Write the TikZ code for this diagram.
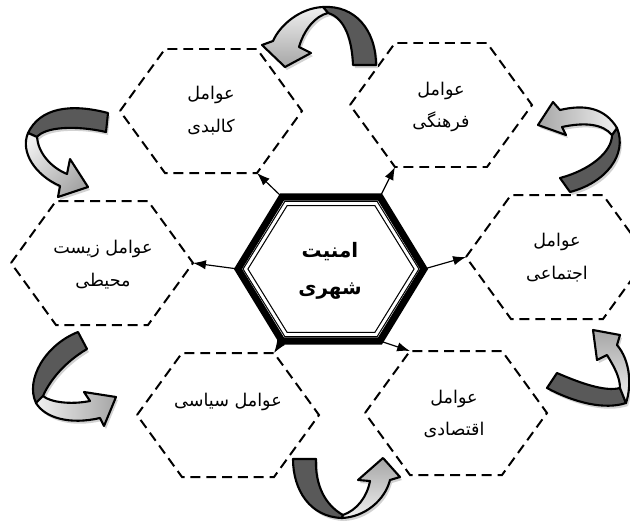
\documentclass[tikz,border=0pt]{standalone}
\usepackage{fontspec}
\newfontfamily\arabicfont[Script=Arabic]{DejaVu Sans}
\TeXXeTstate=1
\usetikzlibrary{arrows.meta}

\tikzset{
  hexline/.style={line width=1.7pt, dash pattern=on 8.5pt off 5pt},
  coreline/.style={line width=6pt, line join=miter},
  coredouble/.style={double, double distance=2.4pt, line width=1pt, line join=miter},
  factor/.style={font=\arabicfont\fontsize{15}{28}\selectfont, align=center, inner sep=0pt},
  core/.style={font=\arabicfont\bfseries\fontsize{17}{32}\selectfont, align=center, inner sep=0pt},
  link/.style={-{Latex[length=11pt,width=8pt]}, line width=1pt},
  darkband/.style={draw, line width=1.8pt, line join=round, fill=black!65},
  lightband/.style={draw, line width=1.8pt, line join=round, top color=gray!12, bottom color=gray!70, shading angle=#1},
  bandshadow/.style={gray!35, shift={(2,3)}}
}

% hexagon round a centre, corners named <name>-w, -nw, -ne, -e, -se, -sw
\newcommand{\hexagon}[6][hexline]{%
  \draw[#1] (#3) +(-#4,0) coordinate (#2-w) -- +(-#5,-#6) coordinate (#2-nw)
    -- +(#5,-#6) coordinate (#2-ne) -- +(#4,0) coordinate (#2-e)
    -- +(#5,#6) coordinate (#2-se) -- +(-#5,#6) coordinate (#2-sw) -- cycle;}

% bent arrow: dark back part and shaded front part with its head
\newcommand{\bentarrow}[3]{%
  \fill[bandshadow] #2; \fill[bandshadow] #3;
  \draw[darkband] #2;
  \draw[lightband=#1] #3;}

\begin{document}
\begin{tikzpicture}[x=0.03cm, y=-0.03cm]
\path[use as bounding box] (0,0) rectangle (630,524);
\clip (0,0) rectangle (630,524);

% Factors
\hexagon{kal}{211,111}{91}{46}{62}
\hexagon{far}{441,105}{91}{46}{62}
\hexagon{ejt}{557,257}{91}{46}{62}
\hexagon{eqt}{456,413}{91}{46}{62}
\hexagon{sia}{228,415}{91}{46}{62}
\hexagon{zis}{102,263}{91}{46}{62}

\node[factor] (kal) at (211,111) {\beginR عوامل\endR\\\beginR کالبدی\endR};
\node[factor] (far) at (441,107) {\beginR عوامل\endR\\\beginR فرهنگی\endR};
\node[factor] (ejt) at (557,258) {\beginR عوامل\endR\\\beginR اجتماعی\endR};
\node[factor] (eqt) at (454,414) {\beginR عوامل\endR\\\beginR اقتصادی\endR};
\node[factor] (sia) at (228,402) {\beginR عوامل سیاسی\endR};
\node[factor] (zis) at (103,265) {\beginR عوامل زیست\endR\\\beginR محیطی\endR};

% Urban security
\hexagon[coreline]{sec}{331,269}{93}{49}{72}
\hexagon[coredouble]{secin}{331,269}{85.5}{45}{65.5}
\node[core] (secx) at (330,271) {\beginR امنیت\endR\\\beginR شهری\endR};

% Links
\draw[link] (sec-w) -- (zis-e);
\draw[link] (sec-e) -- (ejt-w);
\draw[link] (sec-nw) -- (kal-se);
\draw[link] (sec-ne) -- (far-sw);
\draw[link] (sec-sw) -- (sia-ne);
\draw[link] (sec-se) -- (eqt-nw);

% Bent arrows, top
\bentarrow{0}
  {(323,7) .. controls (355,5) and (376,30) .. (376,65) -- (353,65) .. controls (352,40) and (345,18) .. (328,13) -- cycle}
  {(323,7) .. controls (300,8) and (280,25) .. (273,41) -- (262,45) -- (285,67) -- (311,53) -- (299,47) .. controls (304,30) and (315,16) .. (328,13) -- cycle}
% upper left
\bentarrow{45}
  {(28,133) .. controls (40,108) and (70,103) .. (108,113) -- (106,132) .. controls (75,125) and (45,127) .. (37,137) -- cycle}
  {(28,133) .. controls (20,152) and (35,175) .. (60,186) -- (58,197) -- (88,187) -- (70,159) -- (67,174) .. controls (50,167) and (38,152) .. (37,137) -- cycle}
% lower left
\bentarrow{90}
  {(78,332) .. controls (45,345) and (25,380) .. (36,403) -- (43,396) .. controls (50,380) and (65,362) .. (87,349) -- cycle}
  {(36,403) .. controls (45,418) and (70,425) .. (100,418) -- (104,426) -- (116,397) -- (84,392) -- (90,401) .. controls (70,405) and (50,402) .. (43,396) -- cycle}
% bottom
\bentarrow{180}
  {(293,459) .. controls (293,490) and (310,517) .. (342,518) -- (343,515) .. controls (325,505) and (315,485) .. (316,459) -- cycle}
  {(342,518) .. controls (365,517) and (385,500) .. (390,480) -- (400,477) -- (383,458) -- (358,480) -- (370,481) .. controls (367,497) and (357,510) .. (343,515) -- cycle}
% lower right
\bentarrow{180}
  {(557,373) .. controls (580,383) and (605,392) .. (620,388) -- (626,403) .. controls (605,410) and (575,403) .. (547,388) -- cycle}
  {(626,403) .. controls (632,385) and (630,360) .. (617,345) -- (620,335) -- (593,330) -- (597,360) -- (607,355) .. controls (615,368) and (620,378) .. (620,388) -- cycle}
% upper right
\bentarrow{-90}
  {(617,128) .. controls (628,155) and (605,183) .. (570,192) -- (560,178) .. controls (590,170) and (612,152) .. (612,135) -- cycle}
  {(617,128) .. controls (605,108) and (585,104) .. (560,110) -- (553,102) -- (538,125) -- (566,135) -- (562,127) .. controls (585,122) and (603,124) .. (612,135) -- cycle}
\end{tikzpicture}
\end{document}
